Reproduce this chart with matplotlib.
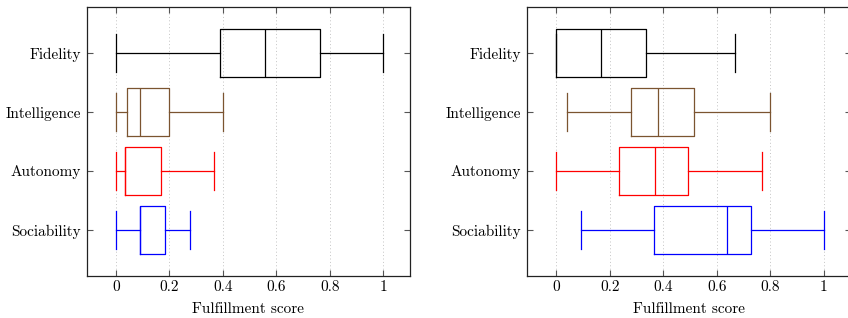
import numpy as np
import matplotlib
matplotlib.use('Agg')
import matplotlib.pyplot as plt

### Data
categories = ['Fidelity', 'Intelligence', 'Autonomy', 'Sociability']
colors = ['black', '#7B5430', 'red', 'blue']

# whislo, q1, median, q3, whishi
left_stats = [[0.0, 0.390, 0.557, 0.765, 1.0],
              [0.0, 0.041, 0.091, 0.197, 0.400],
              [0.0, 0.034, 0.034, 0.168, 0.367],
              [0.0, 0.091, 0.091, 0.183, 0.275]]
right_stats = [[0.0, 0.0, 0.166, 0.334, 0.667],
               [0.040, 0.280, 0.380, 0.515, 0.800],
               [0.0, 0.233, 0.367, 0.491, 0.768],
               [0.091, 0.364, 0.636, 0.727, 1.0]]
xticks = [0, 0.2, 0.4, 0.6, 0.8, 1]
xticklabels = ['0', '0.2', '0.4', '0.6', '0.8', '1']
xlabel = 'Fulfillment score'

### Style
plt.rcParams['font.family'] = 'serif'
plt.rcParams['font.serif'] = ['cmr10', 'DejaVu Serif']
plt.rcParams['mathtext.fontset'] = 'cm'
plt.rcParams['axes.formatter.use_mathtext'] = True

fig = plt.figure(figsize=(8.48, 3.18), dpi=100)
W, H = 848., 318.
ax1 = fig.add_axes([87/W, 1-276/H, 323/W, 269/H])
ax2 = fig.add_axes([527.3/W, 1-276/H, 323.7/W, 269/H])

positions = np.arange(len(categories), 0, -1)

def draw(ax, stats):
    for s, pos, col in zip(stats, positions, colors):
        d = dict(whislo=s[0], q1=s[1], med=s[2], q3=s[3], whishi=s[4], fliers=[])
        ax.bxp([d], positions=[pos], vert=False, widths=0.8, capwidths=0.63,
               showfliers=False, manage_ticks=False,
               boxprops=dict(color=col, linewidth=0.9),
               medianprops=dict(color=col, linewidth=0.9),
               whiskerprops=dict(color=col, linewidth=0.9),
               capprops=dict(color=col, linewidth=0.9))
    ax.set_xlim(-0.109, 1.101)
    ax.set_ylim(0.22, len(categories) + 0.78)
    ax.set_yticks(positions)
    ax.set_yticklabels(categories, fontsize=11)
    ax.set_xticks(xticks)
    ax.set_xticklabels(xticklabels, fontsize=11)
    ax.set_xlabel(xlabel, fontsize=11, labelpad=6)
    ax.grid(axis='x', linestyle=(0, (1, 2.5)), color='#c4c4c4', linewidth=0.7)
    ax.set_axisbelow(True)
    ax.tick_params(direction='in', length=4, width=0.8, color='#555555',
                   top=True, right=True)
    ax.tick_params(axis='x', pad=3)
    ax.tick_params(axis='y', pad=4.5)
    for sp in ax.spines.values():
        sp.set_linewidth(0.9)
        sp.set_color('#222222')

draw(ax1, left_stats)
draw(ax2, right_stats)

plt.savefig('out.png', dpi=100)
